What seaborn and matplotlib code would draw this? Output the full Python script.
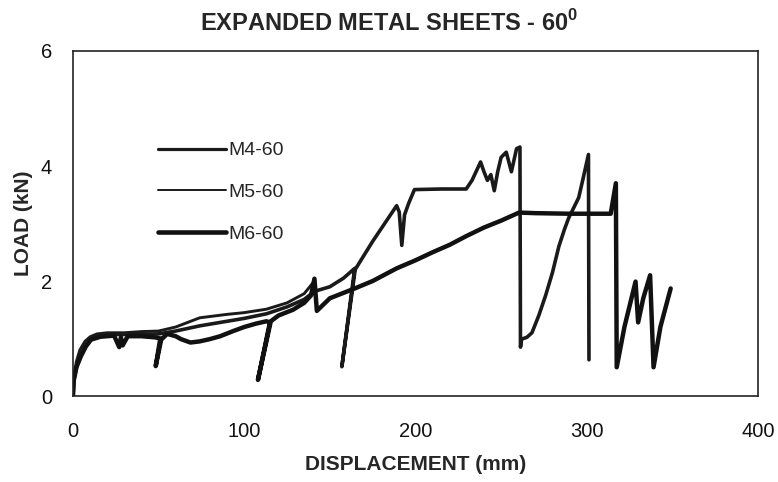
import numpy as np
import pandas as pd
import seaborn as sns
import matplotlib
matplotlib.use("Agg")
import matplotlib.pyplot as plt
from matplotlib.lines import Line2D

# ---- data ----
series_names = ["M4-60", "M5-60", "M6-60"]

x_m4 = [0, 0.7, 2.5, 5, 8, 11, 16, 24, 30, 40, 50, 60, 74, 90, 100, 113, 125, 135, 141,
        150, 158, 164.5, 157, 164.8, 170, 175, 182, 189, 190.5, 192, 193.6, 196, 199.4,
        215, 229.6, 233, 238, 240, 242, 244, 246, 248, 250, 253, 256, 259, 261, 261.3,
        262, 265, 268, 272, 276, 280, 283.7, 287, 289.5, 292, 295.3, 298, 301, 301.3]
y_m4 = [0, 0.3, 0.55, 0.75, 0.9, 1.0, 1.05, 1.07, 1.07, 1.07, 1.08, 1.13, 1.22, 1.3, 1.35,
        1.43, 1.55, 1.68, 1.82, 1.9, 2.05, 2.22, 0.51, 2.2, 2.45, 2.69, 3.0, 3.31, 3.2,
        2.62, 3.15, 3.35, 3.59, 3.6, 3.6, 3.75, 4.07, 3.9, 3.75, 3.85, 3.57, 3.9, 4.15,
        4.24, 3.9, 4.3, 4.33, 0.85, 0.99, 1.02, 1.1, 1.4, 1.75, 2.15, 2.6, 2.9, 3.1, 3.25,
        3.45, 3.8, 4.2, 0.63]

x_m5 = [0, 0.5, 2, 4, 7, 10, 14, 20, 30, 40, 50, 60, 74, 90, 100, 113, 125, 135, 141]
y_m5 = [0, 0.35, 0.6, 0.8, 0.95, 1.03, 1.08, 1.1, 1.1, 1.12, 1.13, 1.2, 1.36, 1.42, 1.45,
        1.51, 1.62, 1.78, 2.0]

x_m6 = [0, 0.5, 2, 4.6, 7.5, 10.5, 16, 24, 27, 28, 29, 32, 40, 48, 51, 48.3, 51.5, 55, 60,
        63, 68.6, 74, 80, 86, 93.6, 100, 107, 113, 115, 108, 115.5, 120, 128.5, 135, 139,
        141, 142.4, 150, 164.5, 175, 189, 200, 210, 220, 229.6, 240, 250, 260.5, 270, 290,
        314, 317, 317.5, 322, 328.5, 330, 333, 337, 339, 343, 349]
y_m6 = [0, 0.28, 0.5, 0.69, 0.86, 0.98, 1.03, 1.05, 0.85, 1.02, 0.88, 1.04, 1.04, 1.02,
        1.0, 0.52, 0.98, 1.08, 1.04, 0.99, 0.93, 0.95, 0.99, 1.04, 1.13, 1.2, 1.26, 1.3,
        1.28, 0.28, 1.3, 1.4, 1.5, 1.62, 1.75, 2.04, 1.48, 1.7, 1.87, 2.0, 2.22, 2.36, 2.5,
        2.63, 2.78, 2.93, 3.05, 3.19, 3.18, 3.17, 3.17, 3.7, 0.5, 1.2, 1.99, 1.28, 1.7,
        2.1, 0.5, 1.2, 1.87]

x_ticks = [0, 100, 200, 300, 400]
y_ticks = [0, 2, 4, 6]

df = pd.concat([
    pd.DataFrame({"x": x_m4, "y": y_m4, "series": "M4-60"}),
    pd.DataFrame({"x": x_m5, "y": y_m5, "series": "M5-60"}),
    pd.DataFrame({"x": x_m6, "y": y_m6, "series": "M6-60"}),
], ignore_index=True)

sns.set_style("white")
plt.rcParams["font.family"] = ["Liberation Sans", "DejaVu Sans"]
plt.rcParams["mathtext.fontset"] = "custom"
plt.rcParams["mathtext.bf"] = "Liberation Sans:bold"
plt.rcParams["mathtext.rm"] = "Liberation Sans"

plot_widths = {"M4-60": 2.6, "M5-60": 2.1, "M6-60": 3.2}
legend_widths = {"M4-60": 2.3, "M5-60": 1.4, "M6-60": 3.3}
colors = {"M4-60": "#1a1a1a", "M5-60": "#1a1a1a", "M6-60": "#111111"}

fig = plt.figure(figsize=(7.78, 4.82), dpi=100)
ax = fig.add_axes([0.0938, 0.1784, 0.8805, 0.7158])

sns.lineplot(data=df, x="x", y="y", hue="series", size="series", sizes=plot_widths,
             palette=colors, sort=False, estimator=None, units="series",
             legend=False, ax=ax)

ax.set_xlim(0, 400)
ax.set_ylim(0, 6)
ax.set_xticks(x_ticks)
ax.set_yticks(y_ticks)
ax.tick_params(direction="in", length=3, width=0.8, labelsize=14.5,
               colors="#111111")
ax.tick_params(axis="x", pad=19)
ax.tick_params(axis="y", pad=15)
for s in ax.spines.values():
    s.set_visible(True)
    s.set_color("#222222")
    s.set_linewidth(1.2)

ax.set_xlabel("DISPLACEMENT (mm)", fontsize=15, fontweight="bold", labelpad=10)
ax.set_ylabel("LOAD (kN)", fontsize=15, fontweight="bold", labelpad=6)

fig.text(0.5, 0.952, r"EXPANDED METAL SHEETS - 60$^{\mathbf{0}}$", ha="center",
         va="center", fontsize=17, fontweight="bold")

handles = [Line2D([], [], color=colors[n], lw=legend_widths[n]) for n in series_names]
ax.legend(handles, series_names, loc="upper left", bbox_to_anchor=(0.203, 0.706),
          bbox_transform=fig.transFigure, frameon=False, fontsize=14,
          handlelength=3.5, handletextpad=0.1, labelspacing=1.25, borderpad=0,
          borderaxespad=0)

fig.savefig("out.png", dpi=100)
